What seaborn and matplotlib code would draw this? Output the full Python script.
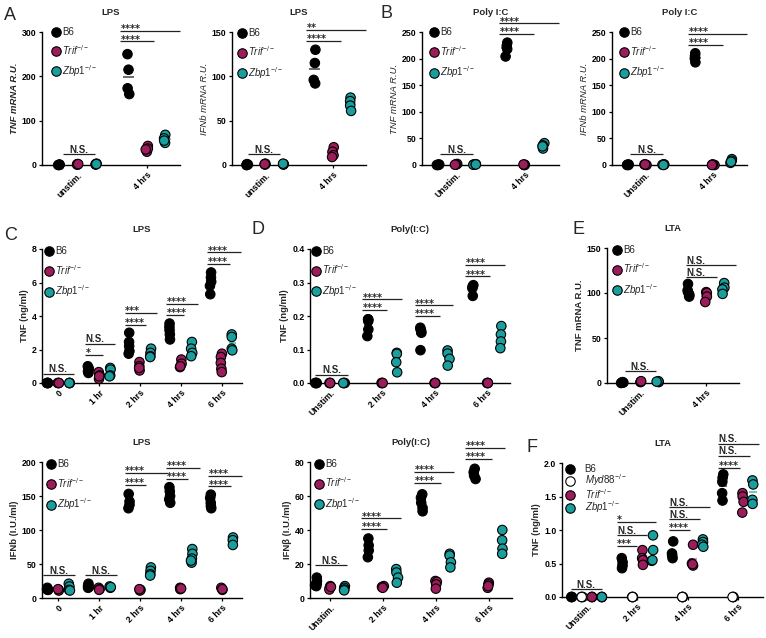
import numpy as np
import pandas as pd
import matplotlib
matplotlib.use("Agg")
import matplotlib.pyplot as plt
import seaborn as sns
from matplotlib.lines import Line2D

sns.set_theme(style="ticks")
plt.rcParams["font.family"] = ["Liberation Sans", "DejaVu Sans"]
plt.rcParams["mathtext.fontset"] = "custom"
plt.rcParams["mathtext.rm"] = "Liberation Sans"
plt.rcParams["mathtext.it"] = "Liberation Sans:italic"
plt.rcParams["mathtext.bf"] = "Liberation Sans:bold"
np.random.seed(2)

# ---------------- data ----------------
GENO3 = ["B6", "Trif", "Zbp1"]
GENO4 = ["B6", "Myd88", "Trif", "Zbp1"]

A1_cats = ["unstim.", "4 hrs"]
A1_B6 = [[0, 0, 1, 0.5], [250, 215, 173, 160]]
A1_Trif = [[1, 2, 1, 2], [43, 30, 37, 35]]
A1_Zbp1 = [[2, 1, 3, 2], [68, 60, 50, 55]]

A2_cats = ["unstim.", "4 hrs"]
A2_B6 = [[0, 0.5, 1, 0], [130, 115, 96, 92]]
A2_Trif = [[1, 0.5, 1.5, 1], [20, 15, 11, 9]]
A2_Zbp1 = [[1, 0.5, 1, 1.5], [76, 72, 67, 61]]

B1_cats = ["Unstim.", "4 hrs"]
B1_B6 = [[0, 1, 0.5, 0], [230, 224, 218, 204]]
B1_Trif = [[1, 2, 1, 0.5], [0, 0.5, 0, 1]]
B1_Zbp1 = [[1, 0.5, 1.5, 1], [41, 37, 31, 35]]

B2_cats = ["Unstim.", "4 hrs"]
B2_B6 = [[0, 0.5, 1, 0], [210, 205, 200, 193]]
B2_Trif = [[0.5, 1, 0, 1], [0, 0.5, 1, 0]]
B2_Zbp1 = [[1, 0.5, 1, 0], [11, 8, 4, 6]]

C1_cats = ["0", "1 hr", "2 hrs", "4 hrs", "6 hrs"]
C1_B6 = [[0, 0, 0, 0], [1.0, 0.85, 0.6, 0.7], [3.0, 2.45, 2.2, 1.9, 1.75],
         [3.55, 3.35, 3.15, 2.9, 2.6], [6.6, 6.3, 6.05, 5.8, 5.3]]
C1_Trif = [[0, 0, 0], [0.65, 0.45, 0.25, 0.4], [1.25, 1.0, 0.75, 0.9],
           [1.4, 1.15, 0.95, 1.0], [1.75, 1.55, 1.2, 0.85, 0.65]]
C1_Zbp1 = [[0, 0, 0], [0.9, 0.8, 0.45, 0.4], [2.05, 1.8, 1.6, 1.55],
           [2.45, 2.05, 1.8, 1.6], [2.9, 2.75, 2.05, 1.95]]

D1_cats = ["Unstim.", "2 hrs", "4 hrs", "6 hrs"]
D1_B6 = [[0, 0, 0, 0], [0.19, 0.19, 0.185, 0.16, 0.14],
         [0.165, 0.16, 0.155, 0.15, 0.098], [0.292, 0.288, 0.283, 0.26]]
D1_Trif = [[0, 0, 0], [0, 0, 0], [0, 0, 0], [0, 0, 0]]
D1_Zbp1 = [[0, 0, 0], [0.09, 0.087, 0.062, 0.032],
           [0.097, 0.088, 0.072, 0.052], [0.17, 0.145, 0.124, 0.104]]

E_cats = ["Unstim.", "4 hrs"]
E_B6 = [[0, 0.5, 1, 0.5], [110, 103, 98, 96, 101]]
E_Trif = [[1, 1.5, 2], [101, 100, 96, 90]]
E_Zbp1 = [[1, 2, 1.5], [111, 106, 104, 99]]

C2_cats = ["0", "1 hr", "2 hrs", "4 hrs", "6 hrs"]
C2_B6 = [[15, 13, 12, 12], [21, 18, 16, 15], [153, 142, 137, 132],
         [163, 157, 150, 145, 140], [152, 147, 140, 135, 132]]
C2_Trif = [[12, 11, 13], [15, 13, 12], [12, 11, 13], [15, 13, 14], [15, 12, 13]]
C2_Zbp1 = [[21, 17, 12, 11], [17, 15, 16], [45, 40, 35, 33],
           [72, 65, 58, 52, 55], [89, 85, 78]]

D2_cats = ["Unstim.", "2 hrs", "4 hrs", "6 hrs"]
D2_B6 = [[12, 10, 8.5, 7, 7.5], [35, 31, 28, 24], [61, 59, 56, 53, 51], [76, 74, 72, 70]]
D2_Trif = [[7, 6, 5, 6.5], [7, 6.5, 6], [10, 9.5, 8, 5.5], [9, 8, 6, 7]]
D2_Zbp1 = [[7, 6, 5, 4.5], [17, 15, 12, 9], [26, 25, 21, 18], [40, 34, 29, 26]]

F_cats = ["Unstim.", "2 hrs", "4 hrs", "6 hrs"]
F_B6 = [[0, 0, 0], [0.58, 0.52, 0.47, 0.43], [0.83, 0.65, 0.62, 0.58],
        [1.83, 1.78, 1.72, 1.55, 1.44]]
F_Myd88 = [[0, 0, 0], [0, 0, 0], [0, 0, 0], [0, 0, 0]]
F_Trif = [[0, 0, 0], [0.7, 0.58, 0.55, 0.48], [0.78, 0.5, 0.47, 0.49],
          [1.55, 1.5, 1.42, 1.26]]
F_Zbp1 = [[0, 0, 0], [0.92, 0.7, 0.54, 0.55], [0.86, 0.82, 0.78, 0.75],
          [1.74, 1.68, 1.45, 1.39]]

# significance bars: (group, start offset, end offset, y, label, align)
A1_sig = [(0, -0.22, 0.25, 24, "N.S.", "c"), (1, -0.39, 0.10, 279, "****", "l"),
          (1, -0.39, 0.48, 302, "****", "l")]
A2_sig = [(0, -0.26, 0.21, 12.4, "N.S.", "c"), (1, -0.39, 0.13, 140, "****", "l"),
          (1, -0.39, 0.50, 152.6, "**", "l")]
B1_sig = [(0, -0.23, 0.24, 20, "N.S.", "c"), (1, -0.38, 0.14, 246, "****", "l"),
          (1, -0.38, 0.50, 266, "****", "l")]
B2_sig = [(0, -0.23, 0.25, 20, "N.S.", "c"), (1, -0.37, 0.14, 226, "****", "l"),
          (1, -0.37, 0.50, 247, "****", "l")]
C1_sig = [(0, -0.38, 0.38, 0.56, "N.S.", "c"),
          (1, -0.34, 0.09, 1.7, "*", "l"), (1, -0.34, 0.39, 2.35, "N.S.", "l"),
          (2, -0.37, 0.14, 3.48, "****", "l"), (2, -0.37, 0.41, 4.18, "***", "l"),
          (3, -0.35, 0.08, 4.08, "****", "l"), (3, -0.35, 0.42, 4.74, "****", "l"),
          (4, -0.35, 0.20, 7.12, "****", "l"), (4, -0.35, 0.47, 7.8, "****", "l")]
D1_sig = [(0, -0.28, 0.35, 0.025, "N.S.", "c"),
          (1, -0.39, 0.10, 0.219, "****", "l"), (1, -0.39, 0.37, 0.25, "****", "l"),
          (2, -0.38, 0.10, 0.20, "****", "l"), (2, -0.38, 0.35, 0.232, "****", "l"),
          (3, -0.42, 0.06, 0.318, "****", "l"), (3, -0.42, 0.34, 0.353, "****", "l")]
E_sig = [(0, -0.23, 0.24, 13, "N.S.", "c"), (1, -0.30, 0.17, 118, "N.S.", "l"),
         (1, -0.30, 0.46, 131, "N.S.", "l")]
C2_sig = [(0, -0.37, 0.41, 33.5, "N.S.", "c"), (1, -0.34, 0.43, 33.5, "N.S.", "c"),
          (2, -0.37, 0.16, 166.5, "****", "l"), (2, -0.37, 0.69, 184, "****", "l"),
          (3, -0.35, 0.18, 175, "****", "l"), (3, -0.35, 0.47, 191, "****", "l"),
          (4, -0.33, 0.22, 164, "****", "l"), (4, -0.33, 0.50, 180, "****", "l")]
D2_sig = [(0, -0.29, 0.32, 19.3, "N.S.", "c"),
          (1, -0.41, 0.08, 40.6, "****", "l"), (1, -0.41, 0.34, 46.9, "****", "l"),
          (2, -0.41, 0.09, 67.6, "****", "l"), (2, -0.41, 0.34, 74, "****", "l"),
          (3, -0.45, 0.06, 81.8, "****", "l"), (3, -0.45, 0.31, 88.3, "****", "l")]
F_sig = [(0, -0.32, 0.29, 0.12, "N.S.", "c"),
         (1, -0.41, -0.01, 0.76, "***", "l"), (1, -0.41, 0.19, 0.92, "N.S.", "l"),
         (1, -0.41, 0.38, 1.12, "*", "l"),
         (2, -0.38, 0.05, 1.00, "****", "l"), (2, -0.38, 0.25, 1.16, "N.S.", "l"),
         (2, -0.38, 0.45, 1.34, "N.S.", "l"),
         (3, -0.39, 0.04, 1.93, "****", "l"), (3, -0.39, 0.24, 2.11, "N.S.", "l"),
         (3, -0.39, 0.42, 2.29, "N.S.", "l")]

# ---------------- style ----------------
W, H = 766, 638
COLORS = {"B6": "#000000", "Myd88": "#ffffff", "Trif": "#9c1c5c", "Zbp1": "#1a9e9e"}
MEANC = {"B6": "#444444", "Myd88": "#444444", "Trif": "#d0609a", "Zbp1": "#3cc0a0"}
LABELS = {"B6": "B6", "Myd88": r"$\mathit{Myd88}^{-/-}$",
          "Trif": r"$\mathit{Trif}^{-/-}$", "Zbp1": r"$\mathit{Zbp1}^{-/-}$"}

fig = plt.figure(figsize=(W / 100, H / 100), dpi=100)


def px_rect(l, t, r, b):
    return [l / W, 1 - b / H, (r - l) / W, (b - t) / H]


def long_df(cats, genos, series):
    rows = []
    for g, per_cat in zip(genos, series):
        for c, vals in zip(cats, per_cat):
            for v in vals:
                rows.append((c, g, v))
    return pd.DataFrame(rows, columns=["cat", "geno", "val"])


def draw_panel(rect, cats, genos, series, ylim, yticks, yticklabels, ylabel, title,
               sigs, xlim, leg_xy, leg_sp, ystyle="normal", yweight="bold",
               textpad=0.1):
    ax = fig.add_axes(px_rect(*rect))
    df = long_df(cats, genos, series)
    sns.stripplot(data=df, x="cat", y="val", hue="geno", order=cats, hue_order=genos,
                  palette=COLORS, dodge=True, jitter=0.06, size=6.8, linewidth=0.8,
                  edgecolor="black", legend=False, ax=ax, clip_on=False, zorder=3)
    n = len(genos)
    w = 0.8 / n
    for gi, g in enumerate(genos):
        off = -0.4 + w * (gi + 0.5)
        for ci, vals in enumerate(series[gi]):
            m = float(np.mean(vals))
            ax.hlines(m, ci + off - 0.08, ci + off + 0.08, colors=MEANC[g], lw=1.1,
                      zorder=2)
    for ci, x0, x1, y, lab, al in sigs:
        ax.plot([ci + x0, ci + x1], [y, y], color="#222222", lw=0.9, clip_on=False,
                solid_capstyle="butt")
        if al == "c":
            tx, ha = ci + (x0 + x1) / 2, "center"
        else:
            tx, ha = ci + x0 + 0.01, "left"
        if "*" in lab:
            kw = dict(fontsize=7, family=["DejaVu Sans"], fontweight="bold")
            dy = -0.9
        else:
            kw = dict(fontsize=7, fontweight="bold")
            dy = 0.9
        ax.annotate(lab, xy=(tx, y), xytext=(0, dy), textcoords="offset points",
                    ha=ha, va="baseline", annotation_clip=False, **kw)
    ax.set_xlim(*xlim)
    ax.set_ylim(*ylim)
    ax.set_yticks(yticks)
    ax.set_yticklabels(yticklabels, fontsize=6.3, fontweight="bold")
    ax.set_xticks(range(len(cats)))
    ax.set_xticklabels(cats, rotation=45, ha="right", rotation_mode="anchor",
                       fontsize=6.3, fontweight="bold")
    ax.set_xlabel("")
    ax.set_ylabel(ylabel, fontsize=6.8, fontweight=yweight, fontstyle=ystyle,
                  labelpad=2)
    ax.set_title(title, fontsize=6.8, fontweight="bold", pad=12)
    for s in ["top", "right"]:
        ax.spines[s].set_visible(False)
    for s in ["left", "bottom"]:
        ax.spines[s].set_linewidth(1.0)
        ax.spines[s].set_color("black")
    ax.tick_params(axis="both", length=2.5, width=0.9, pad=1.5, colors="black")
    handles = [Line2D([], [], ls="", marker="o", markersize=6.8,
                      markerfacecolor=COLORS[g], markeredgecolor="black",
                      markeredgewidth=0.8, label=LABELS[g]) for g in genos]
    mx, my = leg_xy
    fs = 7
    ax.legend(handles=handles, loc="upper left",
              bbox_to_anchor=((mx - fs * 1.389 / 2) / W, 1 - (my - 6) / H),
              bbox_transform=fig.transFigure, frameon=False, fontsize=fs,
              handlelength=1.0, handletextpad=textpad, labelspacing=leg_sp,
              borderpad=0, borderaxespad=0)
    return ax


draw_panel((42, 32, 180, 165), A1_cats, GENO3, [A1_B6, A1_Trif, A1_Zbp1], (0, 300),
           [0, 100, 200, 300], ["0", "100", "200", "300"], "TNF mRNA R.U.", "LPS",
           A1_sig, (-0.52, 1.48), (56, 33), 0.62, ystyle="italic")
draw_panel((232, 32, 366, 165), A2_cats, GENO3, [A2_B6, A2_Trif, A2_Zbp1], (0, 150),
           [0, 50, 100, 150], ["0", "50", "100", "150"], "IFNb mRNA R.U.", "LPS",
           A2_sig, (-0.5, 1.5), (242, 34), 0.68, ystyle="italic", yweight="normal")
draw_panel((422, 32, 559, 165), B1_cats, GENO3, [B1_B6, B1_Trif, B1_Zbp1], (0, 250),
           [0, 50, 100, 150, 200, 250], ["0", "50", "100", "150", "200", "250"],
           "TNF mRNA R.U.", "Poly I:C", B1_sig, (-0.5, 1.5), (434, 33), 0.7,
           ystyle="italic", yweight="normal")
draw_panel((612, 32, 747, 165), B2_cats, GENO3, [B2_B6, B2_Trif, B2_Zbp1], (0, 250),
           [0, 50, 100, 150, 200, 250], ["0", "50", "100", "150", "200", "250"],
           "IFNb mRNA R.U.", "Poly I:C", B2_sig, (-0.5, 1.5), (624, 33), 0.7,
           ystyle="italic", yweight="normal")
draw_panel((42, 249, 242, 383), C1_cats, GENO3, [C1_B6, C1_Trif, C1_Zbp1], (0, 8),
           [0, 2, 4, 6, 8], ["0", "2", "4", "6", "8"], "TNF (ng/ml)", "LPS",
           C1_sig, (-0.4, 4.5), (49, 252), 0.7)
draw_panel((310, 249, 510, 383), D1_cats, GENO3, [D1_B6, D1_Trif, D1_Zbp1], (0, 0.4),
           [0, 0.1, 0.2, 0.3, 0.4], ["0.0", "0.1", "0.2", "0.3", "0.4"], "TNF (ng/ml)",
           "Poly(I:C)", D1_sig, (-0.38, 3.44), (316, 252), 0.68)
draw_panel((607, 248, 739, 383), E_cats, GENO3, [E_B6, E_Trif, E_Zbp1], (0, 150),
           [0, 50, 100, 150], ["0", "50", "100", "150"], "TNF mRNA R.U.", "LTA",
           E_sig, (-0.5, 1.5), (617, 251), 0.68)
draw_panel((42, 462, 242, 598), C2_cats, GENO3, [C2_B6, C2_Trif, C2_Zbp1], (0, 200),
           [0, 50, 100, 150, 200], ["0", "50", "100", "150", "200"], "IFNb (I.U./ml)",
           "LPS", C2_sig, (-0.4, 4.5), (51, 465), 0.7)
draw_panel((310, 462, 512, 598), D2_cats, GENO3, [D2_B6, D2_Trif, D2_Zbp1], (0, 80),
           [0, 20, 40, 60, 80], ["0", "20", "40", "60", "80"], "IFNβ (I.U./ml)",
           "Poly(I:C)", D2_sig, (-0.38, 3.44), (319, 465), 0.68)
draw_panel((562, 463, 763, 597), F_cats, GENO4, [F_B6, F_Myd88, F_Trif, F_Zbp1],
           (0, 2.0), [0, 0.5, 1.0, 1.5, 2.0], ["0.0", "0.5", "1.0", "1.5", "2.0"],
           "TNF (ng/ml)", "LTA", F_sig, (-0.5, 3.5), (570, 470), -0.15, textpad=1.0)

for letter, x, y in [("A", 4, 15), ("B", 381, 13), ("C", 4, 236), ("D", 252, 229),
                     ("E", 573, 229), ("F", 526, 447)]:
    fig.text(x / W, 1 - y / H, letter, fontsize=13, va="center", ha="left")

fig.savefig("out.png", dpi=100)
